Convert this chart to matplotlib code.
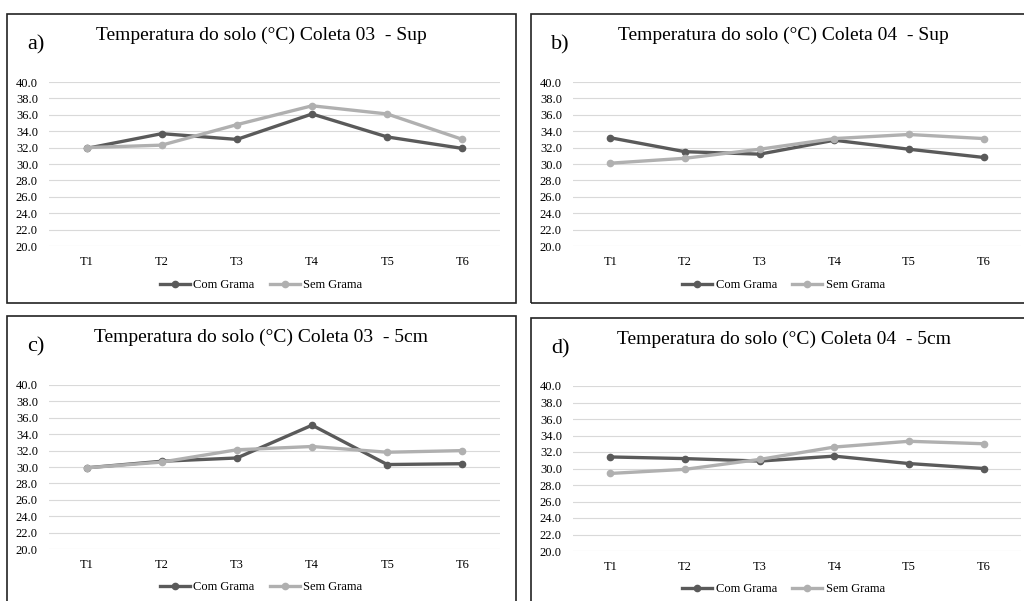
import numpy as np
import matplotlib.pyplot as plt
from matplotlib.patches import Rectangle

# dados
tratamentos = ['T1', 'T2', 'T3', 'T4', 'T5', 'T6']
yticks = np.arange(20, 41, 2)

titulos = ['Temperatura do solo (°C) Coleta 03  - Sup',
           'Temperatura do solo (°C) Coleta 04  - Sup',
           'Temperatura do solo (°C) Coleta 03  - 5cm',
           'Temperatura do solo (°C) Coleta 04  - 5cm']
letras = ['a)', 'b)', 'c)', 'd)']

com_a = [31.9, 33.7, 33.0, 36.1, 33.3, 31.9]
sem_a = [32.0, 32.3, 34.8, 37.1, 36.1, 33.0]
com_b = [33.2, 31.5, 31.2, 32.9, 31.8, 30.8]
sem_b = [30.1, 30.7, 31.8, 33.1, 33.6, 33.1]
com_c = [29.9, 30.7, 31.1, 35.1, 30.3, 30.4]
sem_c = [29.9, 30.6, 32.1, 32.5, 31.8, 32.0]
com_d = [31.4, 31.2, 30.9, 31.5, 30.6, 30.0]
sem_d = [29.4, 29.9, 31.1, 32.6, 33.3, 33.0]

com = [com_a, com_b, com_c, com_d]
sem = [sem_a, sem_b, sem_c, sem_d]

plt.rcParams['font.family'] = ['Liberation Serif', 'DejaVu Serif']

W, H = 1024, 601
fig = plt.figure(figsize=(W / 100, H / 100), dpi=100)

# caixas dos paineis (pixels: x0, y0, x1, y1)
caixas = [(7, 14, 516, 303), (531, 14, 1030, 303),
          (7, 316, 516, 610), (531, 318, 1030, 610)]
# area de plotagem (pixels)
areas = [(49, 82, 500, 246), (573, 82, 1021, 246),
         (49, 385, 500, 549), (573, 386, 1021, 551)]

escuro = '#5a5a5a'
claro = '#b0b0b0'

for i in range(4):
    x0, y0, x1, y1 = caixas[i]
    fig.patches.append(Rectangle((x0 / W, 1 - y1 / H), (x1 - x0) / W, (y1 - y0) / H,
                                 transform=fig.transFigure, fill=False,
                                 edgecolor='#222222', linewidth=1.2))
    ax0, ay0, ax1, ay1 = areas[i]
    ax = fig.add_axes([ax0 / W, 1 - ay1 / H, (ax1 - ax0) / W, (ay1 - ay0) / H])
    x = np.arange(len(tratamentos))
    ax.plot(x, com[i], color=escuro, lw=2.4, marker='o', ms=4.5, label='Com Grama', zorder=3)
    ax.plot(x, sem[i], color=claro, lw=2.4, marker='o', ms=4.5, label='Sem Grama', zorder=3)
    ax.set_xlim(-0.5, 5.5)
    ax.set_ylim(20, 40)
    ax.set_yticks(yticks)
    ax.set_yticklabels(['%.1f' % v for v in yticks], fontsize=9)
    ax.set_xticks(x)
    ax.set_xticklabels(tratamentos, fontsize=9)
    ax.tick_params(axis='y', length=0, pad=8)
    ax.tick_params(axis='x', length=0, pad=7)
    ax.grid(axis='y', color='#d9d9d9', lw=0.8)
    ax.set_axisbelow(True)
    for s in ax.spines.values():
        s.set_visible(False)
    ty = (ay1 - (y0 + 26)) / (ay1 - ay0)
    ax.set_title(titulos[i], fontsize=14, pad=0, x=0.47, y=ty)
    fig.text((x0 + 20) / W, 1 - (y0 + 31) / H, letras[i], fontsize=16, va='center', ha='left')
    ax.legend(loc='center', bbox_to_anchor=(0.47, -(y0 + 271 - ay1) / (ay1 - ay0)),
              ncol=2, frameon=False, fontsize=9, handlelength=2.4, columnspacing=1.2,
              handletextpad=0.3)

fig.savefig('out.png', dpi=100)
